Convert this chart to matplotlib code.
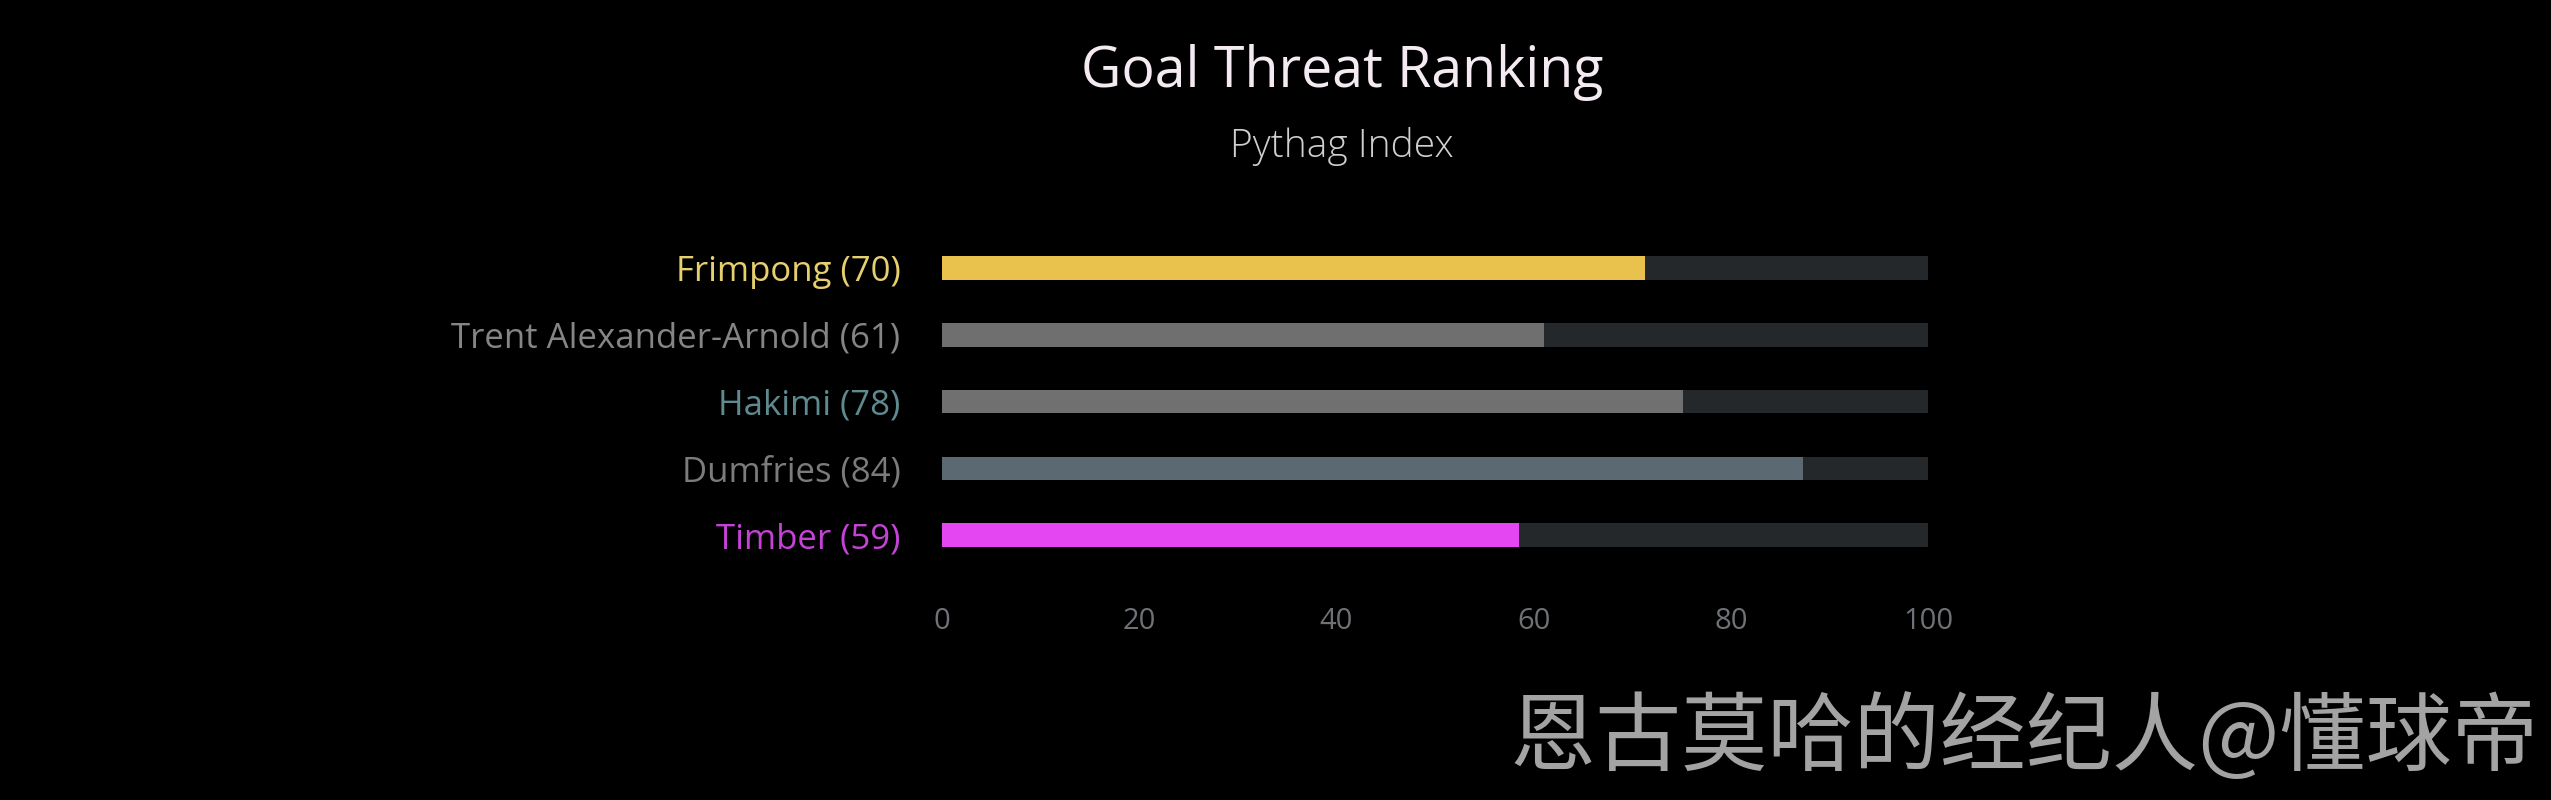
import matplotlib
matplotlib.use('Agg')
import matplotlib.pyplot as plt

# data (bar lengths as drawn, labels as printed)
players = ['Frimpong', 'Trent Alexander-Arnold', 'Hakimi', 'Dumfries', 'Timber']
scores_shown = [70, 61, 78, 84, 59]
bar_values = [71.3, 61.0, 75.1, 87.3, 58.5]
bar_colors = ['#e8c24c', '#6f6f6f', '#707070', '#5b6a72', '#e447f2']
label_colors = ['#e6cf6e', '#858585', '#5f8b90', '#7b7b7b', '#c443d6']
ticks = [0, 20, 40, 60, 80, 100]

plt.rcParams['font.family'] = ['Open Sans', 'DejaVu Sans']

fig = plt.figure(figsize=(25.51, 8), dpi=100, facecolor='black')
ax = fig.add_axes([0.3693, 0.2895, 0.3865, 0.417], facecolor='black')

rows = range(len(players))
# grey track behind every bar, then the value bar
ax.barh(rows, [100] * len(players), height=0.35, color='#25282b')
ax.barh(rows, bar_values, height=0.35, color=bar_colors)

ax.set_xlim(0, 100)
ax.set_ylim(len(players) - 0.5, -0.5)
ax.set_yticks(list(rows))
ax.set_yticklabels([f'{p} ({s})' for p, s in zip(players, scores_shown)],
                   fontsize=25)
for lab, c in zip(ax.get_yticklabels(), label_colors):
    lab.set_color(c)
ax.set_xticks(ticks)
ax.set_xticklabels([str(t) for t in ticks], fontsize=21, color='#6e7276')
ax.tick_params(axis='y', length=0, pad=30)
ax.tick_params(axis='x', length=0, pad=28)
for s in ax.spines.values():
    s.set_visible(False)

fig.text(0.526, 0.909, 'Goal Threat Ranking', ha='center', va='center',
         fontsize=40, color='#f4eaf2')
fig.text(0.526, 0.817, 'Pythag Index', ha='center', va='center',
         fontsize=28, color='#cfcfcf', fontweight='light')

fig.text(0.995, 0.075, '恩古莫哈的经纪人@懂球帝', ha='right', va='center',
         fontsize=62, color='#a3a3a3',
         family=['Noto Sans CJK SC', 'DejaVu Sans'])

fig.savefig('out.png', dpi=100, facecolor='black')
